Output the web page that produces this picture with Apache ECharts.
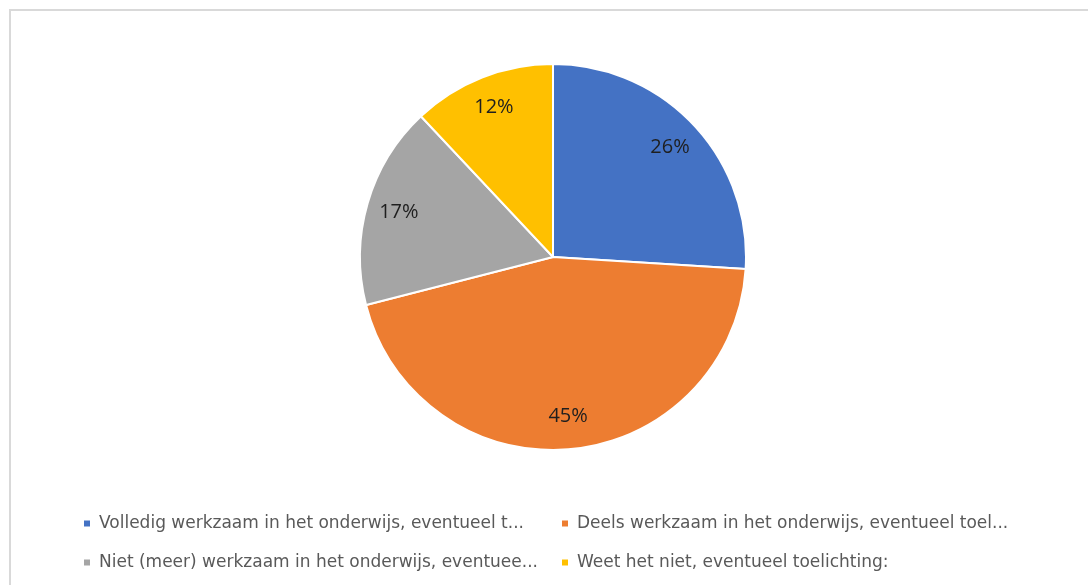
<!DOCTYPE html>
<html>
<head>
<meta charset="utf-8">
<script src="https://cdn.jsdelivr.net/npm/echarts@6/dist/echarts.min.js"></script>
<style>
html,body{margin:0;padding:0;background:#fff;}
#chart{width:1088px;height:585px;}
</style>
</head>
<body>
<div id="chart"></div>
<script>
const categories = [
  "Volledig werkzaam in het onderwijs, eventueel toelichting:",
  "Deels werkzaam in het onderwijs, eventueel toelichting:",
  "Niet (meer) werkzaam in het onderwijs, eventueel toelichting:",
  "Weet het niet, eventueel toelichting:"
];
const legendLabels = [
  "Volledig werkzaam in het onderwijs, eventueel t...",
  "Deels werkzaam in het onderwijs, eventueel toel...",
  "Niet (meer) werkzaam in het onderwijs, eventuee...",
  "Weet het niet, eventueel toelichting:"
];
const values = [26, 45, 17, 12];
const colors = ["#4472C4", "#ED7D31", "#A5A5A5", "#FFC000"];

const R = 193;
const pieData = categories.map((c, i) => ({ name: c, value: values[i], itemStyle: { color: colors[i] } }));
const labelData = categories.map((c, i) => ({ name: c, value: values[i] }));

const chart = echarts.init(document.getElementById('chart'), null, { renderer: 'canvas' });
chart.setOption({
  animation: false,
  backgroundColor: '#ffffff',
  graphic: [{
    type: 'rect',
    shape: { x: 10, y: 10, width: 1100, height: 600 },
    style: { fill: 'none', stroke: '#d9d9d9', lineWidth: 2 },
    silent: true
  }],
  legend: {
    data: categories,
    left: 82,
    top: 509,
    width: 1000,
    padding: 0,
    orient: 'horizontal',
    itemWidth: 8,
    itemHeight: 8,
    itemGap: 10,
    icon: 'rect',
    formatter: function (name) { return legendLabels[categories.indexOf(name)]; },
    textStyle: {
      fontFamily: 'DejaVu Sans',
      fontSize: 17,
      color: '#595959',
      width: 451,
      lineHeight: 29,
      padding: [0, 0, 0, 3]
    }
  },
  series: [
    {
      type: 'pie',
      center: [553, 257],
      radius: [0, R],
      startAngle: 90,
      clockwise: true,
      data: pieData,
      label: { show: false },
      labelLine: { show: false },
      itemStyle: { borderColor: '#ffffff', borderWidth: 2 },
      emphasis: { disabled: true }
    },
    {
      type: 'pie',
      center: [553, 257],
      radius: [122, R],
      startAngle: 90,
      clockwise: true,
      silent: true,
      data: labelData,
      itemStyle: { color: 'rgba(0,0,0,0)', borderWidth: 0 },
      label: {
        show: true,
        position: 'inside',
        formatter: '{c}%',
        fontFamily: 'Open Sans',
        fontSize: 20,
        color: '#1f1f1f'
      },
      labelLine: { show: false },
      emphasis: { disabled: true }
    }
  ]
});
</script>
</body>
</html>
